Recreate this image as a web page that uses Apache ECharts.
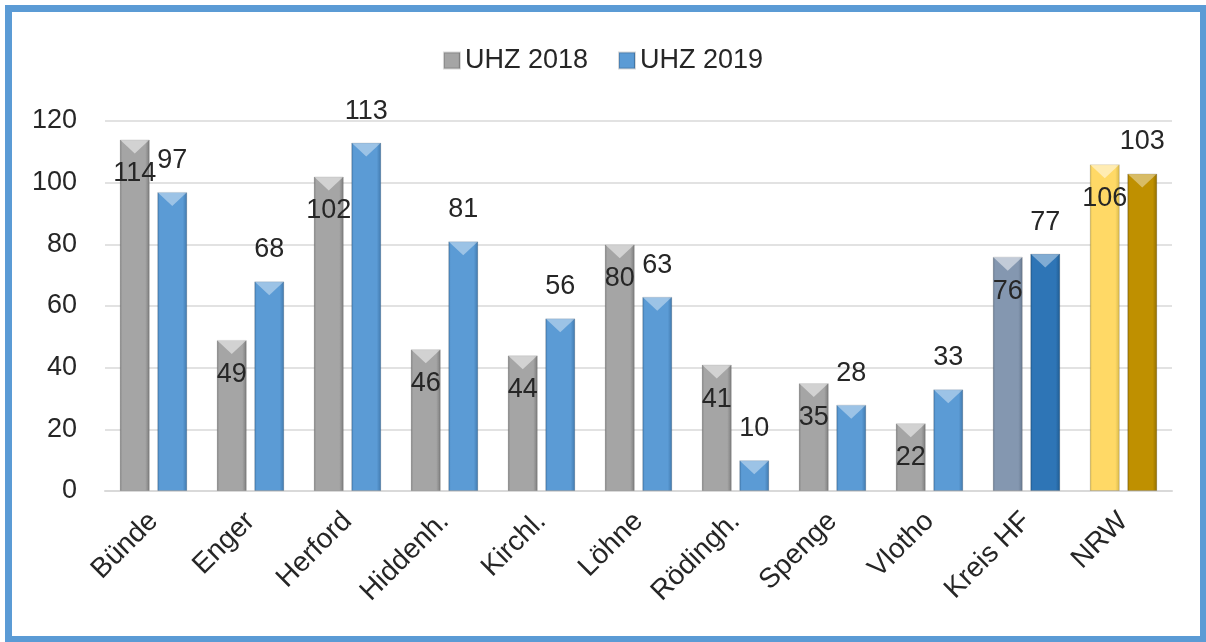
<!DOCTYPE html>
<html>
<head>
<meta charset="utf-8">
<script src="https://cdn.jsdelivr.net/npm/echarts@6/dist/echarts.min.js"></script>
<style>
  html, body { margin: 0; padding: 0; background: #fff; }
  #frame {
    position: absolute; left: 5px; top: 5px; width: 1201px; height: 637px;
    box-sizing: border-box; border: 6px solid #5b9bd5; border-left-width: 7px; border-top-width: 7px;
  }
  #chart { position: absolute; left: 0; top: 0; width: 1206px; height: 642px; }
</style>
</head>
<body>
<div id="frame"></div>
<div id="chart"></div>
<script>
// Orte
const categories = ['Bünde', 'Enger', 'Herford', 'Hiddenh.', 'Kirchl.', 'Löhne', 'Rödingh.', 'Spenge', 'Vlotho', 'Kreis HF', 'NRW']
const uhz2018 = [114, 49, 102, 46, 44, 80, 41, 35, 22, 76, 106]
const uhz2019 = [97, 68, 113, 81, 56, 63, 10, 28, 33, 77, 103]
const yTicks = [0, 20, 40, 60, 80, 100, 120]

const FONT = 'Liberation Sans'

// horizontaler Verlauf: dunkle Kanten, helle Mitte
const bevel = (edge, body) => ({
  type: 'linear', x: 0, y: 0, x2: 1, y2: 0,
  colorStops: [
    { offset: 0, color: edge },
    { offset: 0.08, color: body },
    { offset: 0.85, color: body },
    { offset: 1, color: edge }
  ]
})

const gray = bevel('#7a7a7a', '#a5a5a5')
const blue = bevel('#3f77ab', '#5b9bd5')

// Sonderfarben für Kreis HF und NRW
const special2018 = { 9: bevel('#66788f', '#8497b0'), 10: bevel('#d8b94c', '#ffd966') }
const special2019 = { 9: bevel('#1f5a8f', '#2e75b6'), 10: bevel('#8f6c00', '#bf9000') }

const toItems = (arr, special) => arr.map((v, i) => special[i] ? { value: v, itemStyle: { color: special[i] } } : v)

const labelStyle = { fontFamily: FONT, fontSize: 27, color: '#262626' }

const chevron = 'path://M0,0 L30,0 L15,14 Z'

const chart = echarts.init(document.getElementById('chart'))
chart.setOption({
  animation: false,
  textStyle: { fontFamily: FONT },
  legend: {
    data: ['UHZ 2018', 'UHZ 2019'],
    top: 42,
    left: 'center',
    itemWidth: 16,
    itemHeight: 16,
    itemGap: 30,
    icon: 'rect',
    textStyle: { fontFamily: FONT, fontSize: 27, color: '#262626' }
  },
  grid: { left: 105, right: 34, top: 121, bottom: 151, containLabel: false, outerBoundsMode: 'none' },
  xAxis: {
    type: 'category',
    data: categories,
    axisLine: { lineStyle: { color: '#d9d9d9', width: 2 } },
    axisTick: { show: false },
    axisLabel: { rotate: 45, margin: 26, fontFamily: FONT, fontSize: 28, color: '#262626', interval: 0 }
  },
  yAxis: {
    type: 'value',
    min: yTicks[0],
    max: yTicks[yTicks.length - 1],
    interval: 20,
    axisLine: { show: false },
    axisTick: { show: false },
    axisLabel: { margin: 28, fontFamily: FONT, fontSize: 27, color: '#262626' },
    splitLine: { lineStyle: { color: '#d9d9d9', width: 1.5 } }
  },
  series: [
    {
      name: 'UHZ 2018',
      type: 'bar',
      data: toItems(uhz2018, special2018),
      barWidth: 30,
      barGap: '25%',
      itemStyle: { color: gray, borderColor: 'rgba(0,0,0,0.15)', borderWidth: 1 },
      label: { show: true, position: 'insideTop', distance: 21, ...labelStyle }
    },
    {
      name: 'UHZ 2019',
      type: 'bar',
      data: toItems(uhz2019, special2019),
      barWidth: 30,
      barGap: '25%',
      itemStyle: { color: blue, borderColor: 'rgba(0,0,0,0.15)', borderWidth: 1 },
      label: { show: true, position: 'top', distance: 18, ...labelStyle }
    },
    // helle Spitze oben auf den Säulen
    {
      type: 'pictorialBar',
      data: uhz2018,
      symbol: chevron,
      symbolSize: [30, 14],
      symbolPosition: 'end',
      barWidth: 30,
      barGap: '25%',
      silent: true,
      z: 3,
      itemStyle: { color: 'rgba(255,255,255,0.5)' }
    },
    {
      type: 'pictorialBar',
      data: uhz2019,
      symbol: chevron,
      symbolSize: [30, 14],
      symbolPosition: 'end',
      barWidth: 30,
      barGap: '25%',
      silent: true,
      z: 3,
      itemStyle: { color: 'rgba(255,255,255,0.4)' }
    }
  ]
})
</script>
</body>
</html>
